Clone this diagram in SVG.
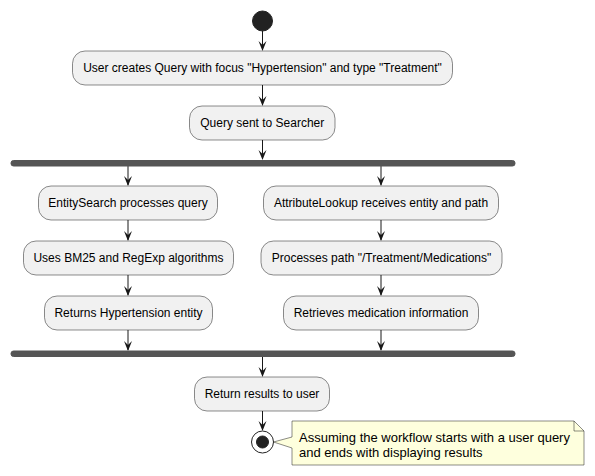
<svg xmlns="http://www.w3.org/2000/svg" width="595" height="476" viewBox="0 0 595 476">
<defs>
<style>
.box{fill:#F1F1F1;stroke:#181818;stroke-width:0.5}
.t{font-family:"Liberation Sans",Arial,sans-serif;font-size:12px;fill:#000;text-anchor:middle}
.nt{font-family:"Liberation Sans",Arial,sans-serif;font-size:13px;fill:#000}
.ln{stroke:#181818;stroke-width:1;fill:none}
.ah{fill:#181818}
.bar{fill:#555555;stroke:#555555;stroke-width:1}
</style>
</defs>
<rect width="595" height="476" fill="#FFFFFF"/>
<g id="connectors">
<path class="ln" d="M262.5,31 L262.5,50"/>
<path class="ah" d="M258.5,41 L262.5,51 L266.5,41 L262.5,45 Z"/>
<path class="ln" d="M262.5,85 L262.5,105"/>
<path class="ah" d="M258.5,96 L262.5,106 L266.5,96 L262.5,100 Z"/>
<path class="ln" d="M262.5,140 L262.5,159"/>
<path class="ah" d="M258.5,150 L262.5,160 L266.5,150 L262.5,154 Z"/>
<path class="ln" d="M128,166 L128,185"/>
<path class="ah" d="M124,176 L128,186 L132,176 L128,180 Z"/>
<path class="ln" d="M128,220 L128,240"/>
<path class="ah" d="M124,231 L128,241 L132,231 L128,235 Z"/>
<path class="ln" d="M128,275 L128,295"/>
<path class="ah" d="M124,286 L128,296 L132,286 L128,290 Z"/>
<path class="ln" d="M128,330 L128,350"/>
<path class="ah" d="M124,341 L128,351 L132,341 L128,345 Z"/>
<path class="ln" d="M381,166 L381,185"/>
<path class="ah" d="M377,176 L381,186 L385,176 L381,180 Z"/>
<path class="ln" d="M381,220 L381,240"/>
<path class="ah" d="M377,231 L381,241 L385,231 L381,235 Z"/>
<path class="ln" d="M381,275 L381,295"/>
<path class="ah" d="M377,286 L381,296 L385,286 L381,290 Z"/>
<path class="ln" d="M381,330 L381,350"/>
<path class="ah" d="M377,341 L381,351 L385,341 L381,345 Z"/>
<path class="ln" d="M262.5,357 L262.5,376"/>
<path class="ah" d="M258.5,367 L262.5,377 L266.5,367 L262.5,371 Z"/>
<path class="ln" d="M262.5,411 L262.5,430"/>
<path class="ah" d="M258.5,421 L262.5,431 L266.5,421 L262.5,425 Z"/>
</g>
<g id="start"><circle cx="262.5" cy="21" r="10" fill="#222222" stroke="#222222" stroke-width="1"/></g>
<g id="n1"><rect class="box" x="72.5" y="51" width="380" height="34" rx="12.5"/><text class="t" x="262.5" y="72">User creates Query with focus "Hypertension" and type "Treatment"</text></g>
<g id="n2"><rect class="box" x="189.5" y="106" width="145.5" height="34" rx="12.5"/><text class="t" x="262.25" y="127">Query sent to Searcher</text></g>
<g id="fork"><rect class="bar" x="11" y="160.5" width="504" height="5.5" rx="2.5"/></g>
<g id="n3"><rect class="box" x="38.5" y="186" width="179" height="34" rx="12.5"/><text class="t" x="128" y="207">EntitySearch processes query</text></g>
<g id="n4"><rect class="box" x="23.5" y="241" width="210" height="34" rx="12.5"/><text class="t" x="128.5" y="262">Uses BM25 and RegExp algorithms</text></g>
<g id="n5"><rect class="box" x="44.5" y="296" width="168" height="34" rx="12.5"/><text class="t" x="128.5" y="317">Returns Hypertension entity</text></g>
<g id="n6"><rect class="box" x="263.5" y="186" width="235" height="34" rx="12.5"/><text class="t" x="381" y="207">AttributeLookup receives entity and path</text></g>
<g id="n7"><rect class="box" x="261" y="241" width="241" height="34" rx="12.5"/><text class="t" x="381.5" y="262">Processes path "/Treatment/Medications"</text></g>
<g id="n8"><rect class="box" x="283.5" y="296" width="195" height="34" rx="12.5"/><text class="t" x="381" y="317">Retrieves medication information</text></g>
<g id="join"><rect class="bar" x="11" y="351" width="504" height="5.5" rx="2.5"/></g>
<g id="n9"><rect class="box" x="194.5" y="377" width="135" height="34" rx="12.5"/><text class="t" x="262" y="398">Return results to user</text></g>
<g id="end"><circle cx="262.5" cy="442" r="11" fill="#FFFFFF" stroke="#222222" stroke-width="1"/><circle cx="262.5" cy="442" r="6" fill="#222222" stroke="#222222" stroke-width="1"/></g>
<g id="note">
<path d="M292,421 L574,421 L584,431 L584,465 L292,465 L292,448 L273.5,442 L292,437 Z" fill="#FEFFDD" stroke="#181818" stroke-width="0.5"/>
<path d="M574,421 L574,431 L584,431" fill="none" stroke="#181818" stroke-width="0.5"/>
<text class="nt" x="299" y="441.5">Assuming the workflow starts with a user query</text>
<text class="nt" x="299" y="456.5">and ends with displaying results</text>
</g>
</svg>
